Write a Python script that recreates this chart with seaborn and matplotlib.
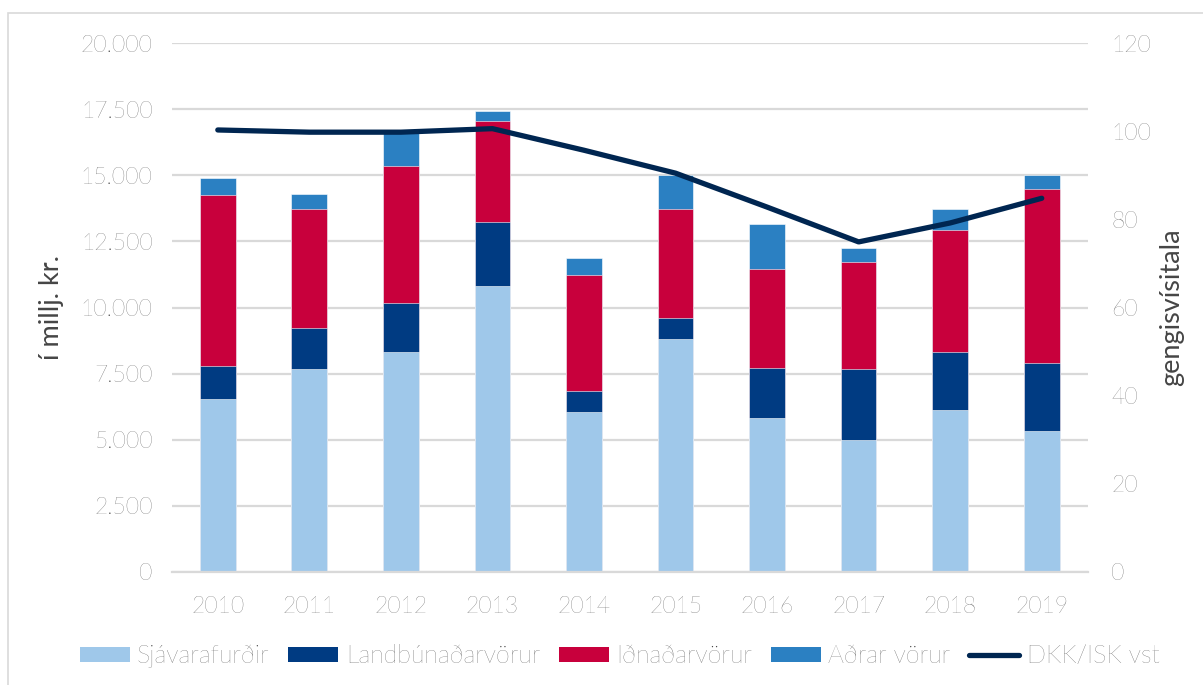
import numpy as np
import pandas as pd
import matplotlib
matplotlib.use("Agg")
import matplotlib.pyplot as plt
from matplotlib.patches import Patch, Rectangle
from matplotlib.lines import Line2D
from matplotlib.ticker import FuncFormatter, MultipleLocator
import seaborn as sns

years = ["2010", "2011", "2012", "2013", "2014", "2015", "2016", "2017", "2018", "2019"]
sjavarafurdir = [6540, 7670, 8320, 10810, 6050, 8810, 5820, 4990, 6120, 5330]
landbunadarvorur = [1250, 1550, 1850, 2420, 790, 790, 1890, 2680, 2200, 2570]
idnadarvorur = [6460, 4500, 5180, 3820, 4390, 4120, 3750, 4050, 4610, 6580]
adrar_vorur = [650, 570, 1290, 380, 640, 1290, 1700, 530, 790, 530]
dkk_isk = [100.3, 99.8, 99.8, 100.6, 95.7, 90.5, 82.8, 74.9, 79.2, 84.8]

series_names = ["Sjávarafurðir", "Landbúnaðarvörur", "Iðnaðarvörur", "Aðrar vörur"]
line_name = "DKK/ISK vst"
colors = ["#9FC8EA", "#003B82", "#C8003C", "#2B80C2"]
line_color = "#002651"
text_color = "#454545"
grid_color = "#D9D9D9"

sns.set_theme(style="white")
plt.rcParams["font.family"] = ["Lato", "DejaVu Sans"]
plt.rcParams["font.weight"] = "light"

fig = plt.figure(figsize=(12.03, 6.85), dpi=100)
ax = fig.add_axes([0.143, 0.165, 0.761, 0.772])

stack = np.vstack([sjavarafurdir, landbunadarvorur, idnadarvorur, adrar_vorur])
cum = np.cumsum(stack, axis=0)

for i in range(len(series_names) - 1, -1, -1):
    df = pd.DataFrame({"year": years, "value": cum[i]})
    sns.barplot(data=df, x="year", y="value", color=colors[i], saturation=1,
                width=0.39, ax=ax, edgecolor="#FFFFFF", linewidth=0.4, errorbar=None)

ax.set_ylim(0, 20000)
ax.yaxis.set_major_locator(MultipleLocator(2500))
ax.yaxis.set_major_formatter(FuncFormatter(lambda v, p: f"{int(v):,}".replace(",", ".")))
ax.set_xlim(-0.5, len(years) - 0.5)
ax.grid(axis="y", color=grid_color, linewidth=1.6)
ax.set_axisbelow(True)
for s in ["top", "right", "left"]:
    ax.spines[s].set_visible(False)
ax.spines["bottom"].set_color(grid_color)
ax.spines["bottom"].set_linewidth(1.6)
ax.tick_params(axis="y", length=0, pad=14, labelsize=16.5, labelcolor=text_color)
ax.tick_params(axis="x", length=0, pad=17, labelsize=16.5, labelcolor=text_color)
ax.set_xlabel("")
ax.set_ylabel("í millj. kr.", fontsize=19.5, color=text_color, labelpad=12)

ax2 = ax.twinx()
sns.lineplot(x=np.arange(len(years)), y=dkk_isk, ax=ax2, color=line_color,
             linewidth=3.8, solid_capstyle="round")
ax2.set_ylim(0, 120)
ax2.yaxis.set_major_locator(MultipleLocator(20))
for s in ["top", "right", "left", "bottom"]:
    ax2.spines[s].set_visible(False)
ax2.tick_params(axis="y", length=0, pad=17, labelsize=16.5, labelcolor=text_color)
ax2.set_ylabel("gengisvísitala", fontsize=19.5, color=text_color, labelpad=6)
ax2.grid(False)

handles = [Patch(facecolor=c, edgecolor="none") for c in colors]
handles.append(Line2D([0], [0], color=line_color, linewidth=3.8, solid_capstyle="round"))
leg = fig.legend(handles, series_names + [line_name], loc="center", ncol=5,
                 bbox_to_anchor=(0.515, 0.042), frameon=False, fontsize=18,
                 handlelength=2.0, handleheight=0.55, handletextpad=0.3, columnspacing=0.75)
for t in leg.get_texts():
    t.set_color(text_color)

fig.patches.append(Rectangle((8 / 1203, -0.01), 1.0, 1 - 13 / 685 + 0.01,
                             transform=fig.transFigure, fill=False,
                             edgecolor=grid_color, linewidth=1.2))

fig.savefig("out.png", dpi=100)
